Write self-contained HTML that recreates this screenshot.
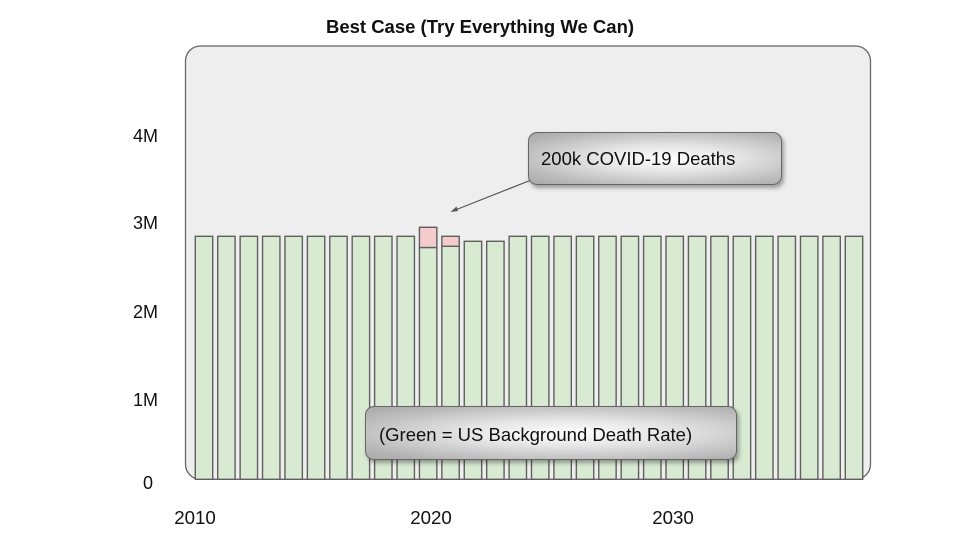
<!DOCTYPE html>
<html>
<head>
<meta charset="utf-8">
<style>
  html, body { margin: 0; padding: 0; background: #ffffff; }
  body { width: 960px; height: 540px; overflow: hidden; position: relative; font-family: "Liberation Sans", Arial, sans-serif; }
  svg { position: absolute; left: 0; top: 0; }
  .callout {
    position: absolute;
    box-sizing: border-box;
    border: 1.3px solid #666;
    border-radius: 9px;
    background: radial-gradient(ellipse at 55% 50%, #ffffff 0%, #e6e6e6 35%, #b8b8b8 80%, #a8a8a8 100%);
    box-shadow: 2px 3px 4px rgba(0,0,0,0.35);
    font-size: 18.5px;
    color: #111;
    white-space: nowrap;
  }
</style>
</head>
<body>
<svg width="960" height="540" viewBox="0 0 960 540" xmlns="http://www.w3.org/2000/svg">
  <text x="480" y="33" text-anchor="middle" font-family="Liberation Sans, Arial, sans-serif" font-weight="bold" font-size="18.5" fill="#111">Best Case (Try Everything We Can)</text>

  <!-- plot area -->
  <rect x="185.5" y="46" width="685" height="433.3" rx="15" ry="15" fill="#eeeeee" stroke="#666" stroke-width="1.3"/>

  <g id="bars" fill="#d9ead3" stroke="#5f5f5f" stroke-width="1.4"></g>

  <!-- y labels -->
  <g font-family="Liberation Sans, Arial, sans-serif" font-size="18" fill="#111" text-anchor="end">
    <text x="158" y="142">4M</text>
    <text x="158" y="229">3M</text>
    <text x="158" y="318">2M</text>
    <text x="158" y="406">1M</text>
    <text x="153" y="489">0</text>
  </g>
  <!-- x labels -->
  <g font-family="Liberation Sans, Arial, sans-serif" font-size="18.7" fill="#111" text-anchor="middle">
    <text x="195" y="524">2010</text>
    <text x="431" y="524">2020</text>
    <text x="673" y="524">2030</text>
  </g>

  <!-- arrow -->
  <line x1="530" y1="180.5" x2="454" y2="210.5" stroke="#555" stroke-width="1.2"/>
  <polygon points="450.5,212 456.5,206.5 458,211" fill="#555"/>
</svg>

<div class="callout" style="left:528px; top:131.5px; width:254px; height:53px; line-height:51px; padding-left:12px;">200k COVID-19 Deaths</div>
<div class="callout" style="left:365px; top:406px; width:372px; height:54px; line-height:56px; padding-left:13px;">(Green = US Background Death Rate)</div>

<script>
  (function(){
    var g = document.getElementById('bars');
    var ns = 'http://www.w3.org/2000/svg';
    var bottom = 479.3;
    for (var i = 0; i < 30; i++) {
      var x = 195.3 + i * 22.414;
      var top = 236.3;
      if (i === 10) top = 247.5;
      if (i === 11) top = 246.3;
      if (i === 12 || i === 13) top = 241.3;
      var r = document.createElementNS(ns, 'rect');
      r.setAttribute('x', x.toFixed(2));
      r.setAttribute('y', top);
      r.setAttribute('width', 17.4);
      r.setAttribute('height', (bottom - top).toFixed(2));
      g.appendChild(r);
      if (i === 10 || i === 11) {
        var ptop = i === 10 ? 227.3 : 236.3;
        var p = document.createElementNS(ns, 'rect');
        p.setAttribute('x', x.toFixed(2));
        p.setAttribute('y', ptop);
        p.setAttribute('width', 17.4);
        p.setAttribute('height', (top - ptop).toFixed(2));
        p.setAttribute('fill', '#f4cccc');
        g.appendChild(p);
      }
    }
  })();
</script>
</body>
</html>
